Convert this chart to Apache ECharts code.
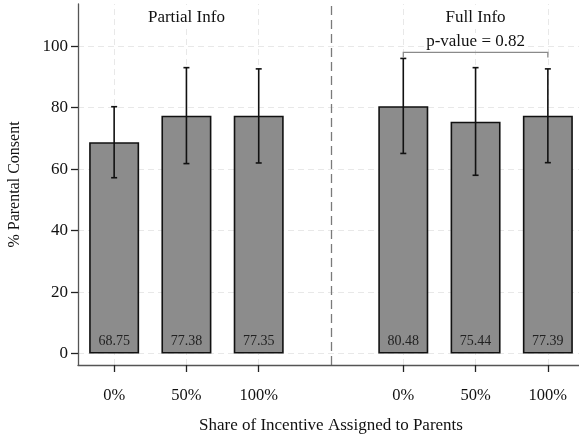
<!DOCTYPE html>
<html><head><meta charset="utf-8">
<script src="https://cdn.jsdelivr.net/npm/echarts@6/dist/echarts.min.js"></script>
<style>html,body{margin:0;padding:0;background:#fff}#c{width:579px;height:435px}</style>
</head><body><div id="c"></div>
<script>
const categories = ['0%', '50%', '100%'];
const panels = ['Partial Info', 'Full Info'];
const partialValues = [68.75, 77.38, 77.35];
const fullValues = [80.48, 75.44, 77.39];
const partialLow = [57.2, 61.8, 62.0];
const partialHigh = [80.3, 93.0, 92.6];
const fullLow = [65.1, 58.0, 62.1];
const fullHigh = [96.0, 93.0, 92.6];
const pValueText = 'p-value = 0.82';
const yTicks = [0, 20, 40, 60, 80, 100];
const xTitle = 'Share of Incentive Assigned to Parents';
const yTitle = '% Parental Consent';

const FONT = '"Liberation Serif", "DejaVu Serif", serif';
// positions: partial 1..3, divider 4, full 5..7
const partialPos = categories.map((_, i) => i + 1);
const fullPos = categories.map((_, i) => i + 5);
const allPos = partialPos.concat(fullPos);
const dividerPos = 4;
const tickLabelMap = {};
partialPos.forEach((p, i) => tickLabelMap[p] = categories[i]);
fullPos.forEach((p, i) => tickLabelMap[p] = categories[i]);

const barData = partialPos.map((p, i) => [p, partialValues[i]])
  .concat(fullPos.map((p, i) => [p, fullValues[i]]));
const errData = partialPos.map((p, i) => [p, partialLow[i], partialHigh[i]])
  .concat(fullPos.map((p, i) => [p, fullLow[i], fullHigh[i]]));

const chart = echarts.init(document.getElementById('c'), null, {renderer: 'canvas'});
const gridLineStyle = {color: '#e8e8e8', type: [6, 4], width: 1};

chart.setOption({
  animation: false,
  backgroundColor: '#fff',
  grid: {left: 78, right: -5, top: 4, bottom: 70, containLabel: false, outerBoundsMode: 'none'},
  xAxis: {
    type: 'value', min: 0.5, max: 7.5,
    name: xTitle, nameLocation: 'middle', nameGap: 52,
    nameTextStyle: {fontFamily: FONT, fontSize: 17, color: '#111'},
    axisLine: {show: true, onZero: false, lineStyle: {color: '#555', width: 1.3}},
    axisTick: {show: true, customValues: allPos, length: 7, lineStyle: {color: '#222', width: 1.3}},
    axisLabel: {customValues: allPos, formatter: v => tickLabelMap[v] || '', margin: 22,
      fontFamily: FONT, fontSize: 16.5, color: '#111'},
    splitLine: {show: false}
  },
  yAxis: {
    type: 'value', min: -3.7, max: 113.7,
    name: yTitle, nameLocation: 'middle', nameGap: 55, nameRotate: 90,
    nameTextStyle: {fontFamily: FONT, fontSize: 16, color: '#111'},
    axisLine: {show: true, onZero: false, lineStyle: {color: '#555', width: 1.3}},
    axisTick: {show: true, customValues: yTicks, length: 7, lineStyle: {color: '#222', width: 1.3}},
    axisLabel: {customValues: yTicks, margin: 10, fontFamily: FONT, fontSize: 17, color: '#111'},
    splitLine: {show: false}
  },
  series: [
    {
      type: 'line', data: [], silent: true, z: 0,
      markLine: {
        silent: true, symbol: 'none', label: {show: false}, z: 0,
        lineStyle: gridLineStyle,
        data: yTicks.map(v => ({yAxis: v})).concat(allPos.map(v => ({xAxis: v})))
          .concat([{xAxis: dividerPos, lineStyle: {color: '#7a7a7a', type: [9, 5], width: 1.3}}])
      }
    },
    {
      type: 'bar', data: barData, barWidth: 50, z: 5,
      itemStyle: {color: '#8c8c8c', borderColor: '#111', borderWidth: 1.6},
      label: {show: true, position: 'insideBottom', distance: 5, formatter: p => p.value[1].toFixed(2),
        fontFamily: FONT, fontSize: 14, color: '#222'}
    },
    {
      type: 'custom', data: errData, z: 6,
      renderItem: (params, api) => {
        const x = api.value(0);
        const lo = api.coord([x, api.value(1)]);
        const hi = api.coord([x, api.value(2)]);
        const cw = 3;
        const st = {stroke: '#111', lineWidth: 1.6};
        return {type: 'group', children: [
          {type: 'line', shape: {x1: lo[0], y1: lo[1], x2: hi[0], y2: hi[1]}, style: st},
          {type: 'line', shape: {x1: lo[0] - cw, y1: lo[1], x2: lo[0] + cw, y2: lo[1]}, style: st},
          {type: 'line', shape: {x1: hi[0] - cw, y1: hi[1], x2: hi[0] + cw, y2: hi[1]}, style: st}
        ]};
      }
    },
    {
      type: 'custom', data: [[fullPos[0], fullPos[2], 98.0, 96.3, 101.5]], z: 6,
      renderItem: (params, api) => {
        const a = api.coord([api.value(0), api.value(2)]);
        const b = api.coord([api.value(1), api.value(2)]);
        const a2 = api.coord([api.value(0), api.value(3)]);
        const b2 = api.coord([api.value(1), api.value(3)]);
        const t = api.coord([(api.value(0) + api.value(1)) / 2, api.value(4)]);
        return {type: 'group', children: [
          {type: 'polyline', shape: {points: [a2, a, b, b2]}, style: {stroke: '#8a8a8a', lineWidth: 1.3, fill: null}},
          {type: 'text', x: t[0], y: t[1], style: {text: pValueText, fontFamily: FONT, fontSize: 17,
            fill: '#111', align: 'center', verticalAlign: 'middle', backgroundColor: '#fff'}}
        ]};
      }
    },
    {
      type: 'custom', z: 6,
      data: [[partialPos[1], 109.4, 0], [fullPos[1], 109.4, 1]],
      renderItem: (params, api) => {
        const t = api.coord([api.value(0), api.value(1)]);
        return {type: 'text', x: t[0], y: t[1], style: {text: panels[api.value(2)], fontFamily: FONT,
          fontSize: 17, fill: '#111', align: 'center', verticalAlign: 'middle', backgroundColor: '#fff'}};
      }
    }
  ]
});
</script></body></html>
